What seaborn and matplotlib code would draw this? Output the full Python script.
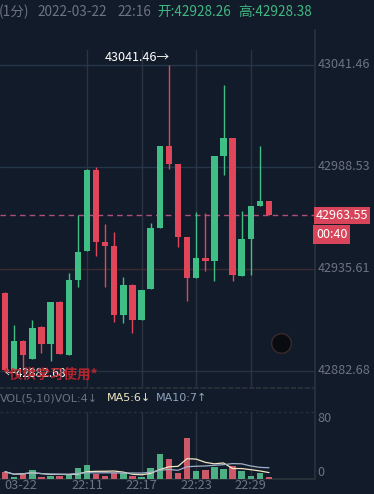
import numpy as np
import pandas as pd
import matplotlib
matplotlib.use("Agg")
import matplotlib.pyplot as plt
import seaborn as sns

# 1-minute candles, 22:02 .. 22:31
opens = [42923.3, 42883.2, 42898.2, 42888.9, 42905.5, 42896.7, 42918.6, 42891.0, 42929.9, 42945.1,
         42987.0, 42949.6, 42947.5, 42911.7, 42927.3, 42909.1, 42925.2, 42956.9, 42999.6, 42990.1,
         42952.2, 42931.1, 42941.2, 42939.9, 42994.4, 43003.7, 42932.1, 42951.2, 42968.3, 42970.9]
highs = [42923.8, 42906.5, 42898.6, 42909.1, 42905.8, 42918.6, 42918.9, 42933.5, 42963.6, 42987.4,
         42988.5, 42959.0, 42955.0, 42931.5, 42927.6, 42924.7, 42959.5, 42999.6, 43041.46, 42990.1,
         42952.2, 42965.3, 42964.7, 42994.4, 43031.1, 43003.7, 42965.9, 42968.3, 42999.6, 42970.9]
lows = [42882.68, 42882.9, 42883.2, 42888.9, 42892.0, 42888.0, 42891.5, 42891.0, 42926.4, 42945.1,
        42942.3, 42926.4, 42908.3, 42907.6, 42902.4, 42909.1, 42925.2, 42956.9, 42987.5, 42947.0,
        42919.2, 42931.1, 42934.7, 42929.5, 42984.4, 42929.5, 42932.1, 42932.5, 42968.3, 42963.55]
closes = [42883.0, 42898.2, 42891.0, 42905.1, 42896.7, 42918.6, 42891.5, 42929.9, 42944.6, 42987.0,
          42949.6, 42947.7, 42911.7, 42927.3, 42909.1, 42924.7, 42956.9, 42999.6, 42990.1, 42952.4,
          42931.1, 42941.3, 42939.7, 42994.4, 43003.7, 42932.5, 42951.2, 42968.3, 42970.9, 42963.55]
volumes = [8.7, 2.7, 7.5, 10.7, 2.7, 3.6, 3.6, 6.0, 13.5, 16.7, 6.0, 4.0, 7.5, 6.8, 4.0,
           2.7, 12.7, 29.9, 23.5, 6.8, 48.6, 9.9, 10.7, 14.7, 11.9, 15.5, 9.6, 4.0, 7.2, 2.0]

price_ticks = [43041.46, 42988.53, 42935.61, 42882.68]
last_price = 42963.55
time_ticks = [1.76, 9, 15, 21, 27]
time_labels = ["03-22", "22:11", "22:17", "22:23", "22:29"]

BG = "#121b29"
UP = "#3fbf86"
DOWN = "#e0455a"
GREY = "#6c7482"

sns.set_theme(style="dark", rc={"axes.facecolor": BG, "figure.facecolor": BG})
plt.rcParams["font.family"] = ["Noto Sans CJK SC", "DejaVu Sans"]

W, H = 374, 494
fig = plt.figure(figsize=(W / 100, H / 100), dpi=100)


def box(x0, y0, x1, y1):
    return [x0 / W, 1 - y1 / H, (x1 - x0) / W, (y1 - y0) / H]


ax = fig.add_axes(box(0, 30, 315, 388))
axv = fig.add_axes(box(0, 388, 315, 479), sharex=ax)

n = len(opens)
idx = np.arange(n)
up = np.array(closes) >= np.array(opens)
colors = [UP if u else DOWN for u in up]

# candles
body_lo = np.minimum(opens, closes)
body_h = np.maximum(np.abs(np.array(closes) - np.array(opens)), 0.9)
ax.vlines(idx, lows, highs, colors=colors, linewidth=1, zorder=3)
ax.bar(idx, body_h, bottom=body_lo, width=0.71, color=colors, linewidth=0, zorder=4)

ax.set_xlim(-0.55, 34.05)
ax.set_ylim(42873.85, 43059.62)

grid_cols = ["#25364a", "#25364a", "#3b2b30", "#28323f"]
for p, c in zip(price_ticks, grid_cols):
    ax.axhline(p, color=c, linewidth=1, zorder=1)
    ax.text(1.007, p, f"{p:.2f}", transform=ax.get_yaxis_transform(), color=GREY,
            fontsize=9.1, va="center", ha="left", clip_on=False)
for t in time_ticks[1:]:
    ax.axvline(t, ymin=0, ymax=0.944, color="#2c3440", linewidth=1, zorder=1)
    axv.axvline(t, ymin=0, ymax=0.74, color="#2c3440", linewidth=1, zorder=1)

ax.axhline(last_price, color="#b0507a", linewidth=1, linestyle=(0, (4, 3)), zorder=2)
ax.text(1.003, last_price, "42963.55", transform=ax.get_yaxis_transform(), color="white",
        fontsize=9.1, va="center", ha="left", clip_on=False,
        bbox=dict(boxstyle="square,pad=0.15", fc="#d8455a", ec="none"))
ax.text(1.003, last_price - 10, "00:40", transform=ax.get_yaxis_transform(), color="white",
        fontsize=9.1, va="center", ha="left", clip_on=False,
        bbox=dict(boxstyle="square,pad=0.22", fc="#d8455a", ec="none"))

ax.text(18.1, 43045.6, "43041.46→", color="white", fontsize=9.1, ha="right", va="center", zorder=5)
ax.text(-0.1, 42881.6, "←42882.68", color="white", fontsize=8.6, ha="left", va="center", zorder=5)
ax.text(-0.35, 42880.8, "*仅供学习使用*", color="#c8262e", fontsize=9.8, fontweight="bold",
        ha="left", va="center", alpha=0.9, zorder=6)
ax.scatter([30.32], [42897.2], s=200, color="#080b10", edgecolor="#3a2a2c", linewidth=1, zorder=5)

for sp in ax.spines.values():
    sp.set_visible(False)
ax.spines["right"].set_visible(True)
ax.spines["right"].set_color("#2a313b")
ax.set_xticks([])
ax.set_yticks([])

# volume
vol = pd.DataFrame({"idx": idx, "vol": volumes, "dir": np.where(up, "up", "down")})
vol["ma5"] = vol["vol"].rolling(5, min_periods=1).mean()
vol["ma10"] = vol["vol"].rolling(10, min_periods=1).mean()
sns.barplot(data=vol, x="idx", y="vol", hue="dir", palette={"up": UP, "down": DOWN},
            dodge=False, width=0.71, linewidth=0, legend=False, ax=axv, zorder=3)
sns.lineplot(data=vol, x="idx", y="ma5", color="#efe6c4", linewidth=0.9, ax=axv, zorder=4)
sns.lineplot(data=vol, x="idx", y="ma10", color="#9fb1c8", linewidth=0.9, ax=axv, zorder=4)

axv.set_xlim(-0.55, 34.05)
axv.set_ylim(0, 108.7)
axv.axhline(80, color="#26303c", linewidth=1, linestyle=(0, (2, 2)), zorder=1)
axv.set_xticks(time_ticks)
axv.set_xticklabels(time_labels, color=GREY, fontsize=9.2)
axv.tick_params(axis="x", length=0, pad=0)
axv.set_yticks([])
axv.set_xlabel("")
axv.set_ylabel("")
for sp in axv.spines.values():
    sp.set_visible(False)
axv.spines["right"].set_visible(True)
axv.spines["right"].set_color("#2a313b")
axv.spines["bottom"].set_visible(True)
axv.spines["bottom"].set_color("#2a313b")
axv.spines["top"].set_visible(True)
axv.spines["top"].set_color("#2a313b")
axv.spines["top"].set_linestyle((0, (2, 2)))


# header, indicator captions and volume scale
def ftext(x, y, s, c, size=9.8, family=None):
    fig.text(x / W, 1 - y / H, s, color=c, fontsize=size, ha="left", va="center",
             family=family or plt.rcParams["font.family"])


ftext(-1, 12, "(1分)", GREY)
ftext(37, 12, "2022-03-22", GREY)
ftext(117, 12, "22:16", GREY)
ftext(157, 12, "开:42928.26", "#41b883")
ftext(238, 12, "高:42928.38", "#41b883")
ftext(0, 398, "VOL(5,10)VOL:4↓", GREY, 8.0, ["DejaVu Sans"])
ftext(107, 398, "MA5:6↓", "#efe6c4", 8.0, ["DejaVu Sans"])
ftext(156, 398, "MA10:7↑", "#8fa3bd", 8.0, ["DejaVu Sans"])
ftext(317, 419, "80", GREY, 9.1)
ftext(317, 472, "0", GREY, 9.1)

fig.savefig("out.png", dpi=100, facecolor=BG)
